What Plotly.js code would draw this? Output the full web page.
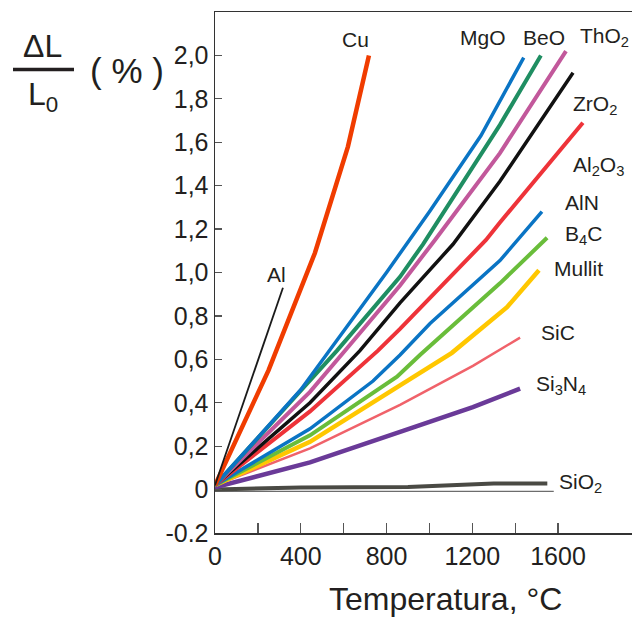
<!DOCTYPE html>
<html>
<head>
<meta charset="utf-8">
<script src="https://cdn.plot.ly/plotly-3.0.1.min.js"></script>
<style>
html,body{margin:0;padding:0;background:#fff;}
#chart{width:632px;height:617px;}
</style>
</head>
<body>
<div id="chart"></div>
<script>
// ---- data (temperature °C, ΔL/L0 %) ----
var alT = [0, 317];
var alV = [0.02, 0.93];
var cuT = [0, 250, 466, 620, 718];
var cuV = [0.02, 0.55, 1.09, 1.58, 2.0];
var mgoT = [0, 400, 800, 1000, 1240, 1440];
var mgoV = [0.02, 0.46, 1.0, 1.28, 1.63, 1.99];
var beoT = [0, 569, 863, 970, 1329, 1520];
var beoV = [0.02, 0.64, 0.98, 1.13, 1.68, 2.0];
var tho2T = [0, 443, 615, 863, 1026, 1329, 1637];
var tho2V = [0.02, 0.45, 0.65, 0.94, 1.15, 1.55, 2.02];
var zro2T = [0, 443, 676, 863, 1110, 1329, 1670];
var zro2V = [0.02, 0.40, 0.64, 0.86, 1.13, 1.42, 1.92];
var al2o3T = [0, 443, 760, 863, 1264, 1329, 1716];
var al2o3V = [0.02, 0.36, 0.64, 0.74, 1.15, 1.23, 1.69];
var alnT = [0, 443, 737, 863, 1003, 1329, 1525];
var alnV = [0.02, 0.28, 0.50, 0.62, 0.765, 1.055, 1.28];
var b4cT = [0, 443, 849, 956, 1329, 1549];
var b4cV = [0.02, 0.25, 0.52, 0.62, 0.95, 1.16];
var mullitT = [0, 443, 863, 1105, 1362, 1511];
var mullitV = [0.02, 0.22, 0.48, 0.63, 0.84, 1.01];
var sicT = [0, 443, 863, 1203, 1423];
var sicV = [0.02, 0.19, 0.39, 0.57, 0.70];
var si3n4T = [0, 443, 877, 1203, 1423];
var si3n4V = [0.01, 0.125, 0.27, 0.38, 0.465];
var sio2T = [0, 200, 400, 900, 1300, 1550];
var sio2V = [0.0, 0.005, 0.01, 0.012, 0.028, 0.028];
var zeroT = [0, 1580];
var zeroV = [-0.008, -0.008];

var xTickVals = [0, 200, 400, 600, 800, 1000, 1200, 1400, 1600];
var xTickText = ['0', '', '400', '', '800', '', '1200', '', '1600'];
var yTickVals = [-0.2, 0, 0.2, 0.4, 0.6, 0.8, 1.0, 1.2, 1.4, 1.6, 1.8, 2.0];
var yTickText = ['-0.2', '0', '0,2', '0,4', '0,6', '0,8', '1,0', '1,2', '1,4', '1,6', '1,8', '2,0'];

// ---- styling ----
var FONT = 'Liberation Sans, Arial, sans-serif';
var TXT = '#231f20';
function ln(x, y, color, w) {
  return {x: x, y: y, type: 'scatter', mode: 'lines', hoverinfo: 'skip',
          line: {color: color, width: w, shape: 'linear'}};
}
var traces = [
  ln(zeroT, zeroV, '#6d6d6d', 1.3),
  ln(sio2T, sio2V, '#4a4a44', 4),
  ln(si3n4T, si3n4V, '#6a3a98', 4.5),
  ln(sicT, sicV, '#f0626a', 2.5),
  ln(mullitT, mullitV, '#ffc700', 4.5),
  ln(b4cT, b4cV, '#69bd3a', 4),
  ln(alnT, alnV, '#0a74c4', 3.5),
  ln(al2o3T, al2o3V, '#ee3339', 4),
  ln(zro2T, zro2V, '#111111', 3.5),
  ln(tho2T, tho2V, '#c2589b', 4),
  ln(beoT, beoV, '#1f8e62', 4),
  ln(mgoT, mgoV, '#0a74c4', 3.5),
  ln(cuT, cuV, '#f03c00', 4.5),
  ln(alT, alV, '#1a1a1a', 1.8)
];

// pixel -> paper helpers (plot area: x 215..632, y 12..533)
function px(x) { return (x - 215) / 417; }
function py(y) { return (533 - y) / 521; }
function lab(text, x, y, size) {
  return {text: text, xref: 'paper', yref: 'paper', x: px(x), y: py(y),
          xanchor: 'center', yanchor: 'middle', showarrow: false,
          font: {family: FONT, size: size || 21, color: TXT}};
}
var annotations = [
  lab('Cu', 355, 39), lab('Al', 276, 274),
  lab('MgO', 483, 37), lab('BeO', 544, 37), lab('ThO<sub>2</sub>', 604, 37),
  lab('ZrO<sub>2</sub>', 595, 105), lab('Al<sub>2</sub>O<sub>3</sub>', 598, 166),
  lab('AlN', 582, 202), lab('B<sub>4</sub>C', 583, 235), lab('Mullit', 578, 268),
  lab('SiC', 558, 332), lab('Si<sub>3</sub>N<sub>4</sub>', 561, 385),
  lab('SiO<sub>2</sub>', 580, 483),
  lab('Temperatura, °C', 445, 599, 32),
  lab('ΔL', 42, 46, 32),
  lab('L<sub>0</sub>', 43, 97, 32),
  lab('( % )', 127, 70, 35)
];
var shapes = [
  {type: 'line', xref: 'paper', yref: 'paper', x0: px(13), x1: px(74), y0: py(69.5), y1: py(69.5),
   line: {color: TXT, width: 3.5}}
];

var layout = {
  width: 632, height: 617,
  margin: {l: 215, r: 0, t: 12, b: 84},
  paper_bgcolor: '#ffffff', plot_bgcolor: '#ffffff',
  showlegend: false,
  font: {family: FONT, color: TXT},
  xaxis: {range: [0, 1945], showgrid: false, zeroline: false,
          showline: true, linecolor: '#333333', linewidth: 1.5, mirror: true,
          ticks: 'inside', ticklen: 10, tickwidth: 1.3, tickcolor: '#555555',
          tickmode: 'array', tickvals: xTickVals, ticktext: xTickText,
          tickfont: {family: FONT, size: 25, color: TXT}, fixedrange: true},
  yaxis: {range: [-0.2, 2.2], showgrid: false, zeroline: false,
          showline: true, linecolor: '#333333', linewidth: 1.5,
          ticks: 'inside', ticklen: 7, tickwidth: 1.3, tickcolor: '#555555',
          tickmode: 'array', tickvals: yTickVals, ticktext: yTickText,
          tickfont: {family: FONT, size: 25, color: TXT}, fixedrange: true},
  annotations: annotations,
  shapes: shapes
};
Plotly.newPlot('chart', traces, layout, {staticPlot: true, displayModeBar: false});
</script>
</body>
</html>
